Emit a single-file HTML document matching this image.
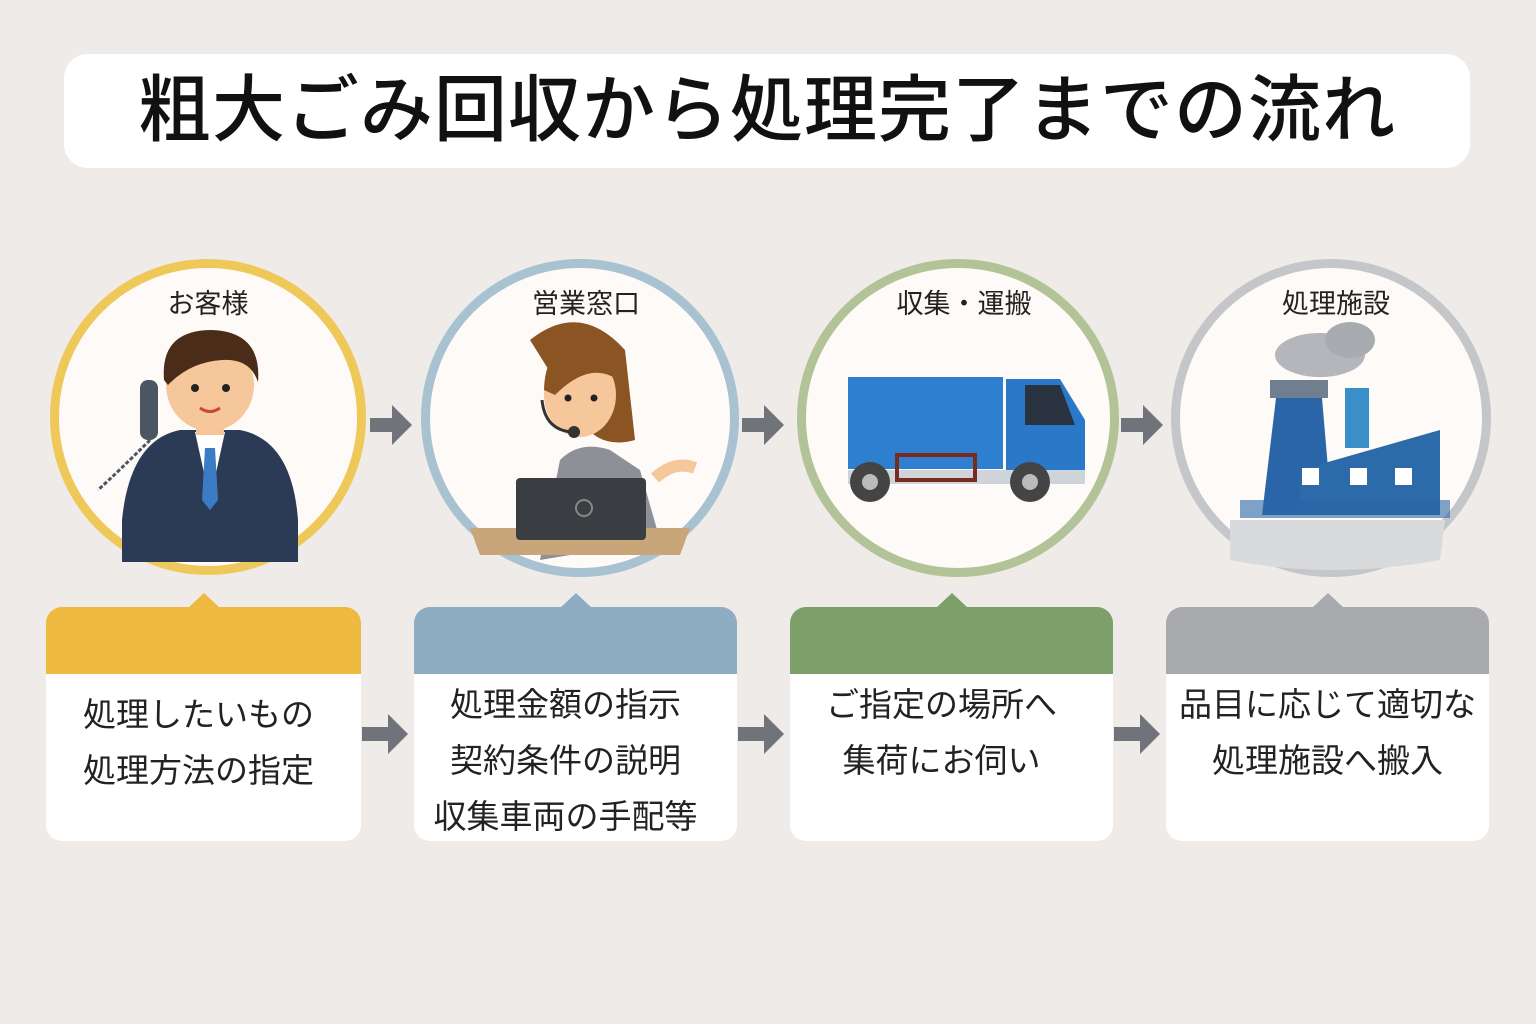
<!DOCTYPE html>
<html><head><meta charset="utf-8"><style>
body{margin:0;width:1536px;height:1024px;background:#eeebe8;position:relative;overflow:hidden;font-family:"Liberation Sans","Noto Sans CJK JP",sans-serif;}
.title{position:absolute;left:64px;top:54px;width:1406px;height:114px;background:#fff;border-radius:24px;text-align:center;line-height:114px;font-size:73px;font-weight:500;color:#111;letter-spacing:1px}
.circ{position:absolute;width:300px;height:300px;border-radius:50%;background:#fdfaf7;box-sizing:border-box}
.clabel{position:absolute;width:300px;text-align:center;font-size:27px;color:#222;top:282px}
.card{position:absolute;top:607px;height:234px;background:#fff;border-radius:16px;overflow:visible}
.head{height:67px;border-radius:16px 16px 0 0}
.tri{position:absolute;top:-14px;left:50%;margin-left:-16px;width:0;height:0;border-left:16px solid transparent;border-right:16px solid transparent;border-bottom:15px solid}
.txt{text-align:center;font-size:33px;color:#222;line-height:56px}
</style></head><body>
<div class="title">粗大ごみ回収から処理完了までの流れ</div>

<div class="circ" style="left:50px;top:259px;width:316px;height:316px;border:9px solid #efc85a"></div>
<div class="circ" style="left:421px;top:259px;width:318px;height:318px;border:9px solid #a8c2d1"></div>
<div class="circ" style="left:797px;top:259px;width:322px;height:318px;border:9px solid #b3c398"></div>
<div class="circ" style="left:1171px;top:259px;width:320px;height:318px;border:9px solid #c5c6ca"></div>
<div class="clabel" style="left:58px">お客様</div>
<div class="clabel" style="left:436px">営業窓口</div>
<div class="clabel" style="left:814px">収集・運搬</div>
<div class="clabel" style="left:1186px">処理施設</div>

<svg style="position:absolute;left:0;top:0" width="1536" height="1024">
<path d="M122 520 Q130 440 180 430 L240 430 Q292 440 298 520 L298 562 L122 562Z" fill="#2b3a55"/>
<path d="M195 432 L210 500 L225 432Z" fill="#fff"/><path d="M205 448 L215 448 L218 500 L210 510 L202 500Z" fill="#3b7dc4"/>
<rect x="196" y="405" width="28" height="30" fill="#f5c49a"/>
<ellipse cx="210" cy="385" rx="44" ry="46" fill="#f7c79c"/>
<path d="M164 380 Q160 330 212 330 Q262 332 258 382 Q250 358 222 360 Q190 362 168 385Z" fill="#4a2c18"/>
<circle cx="195" cy="388" r="4" fill="#222"/><circle cx="226" cy="388" r="4" fill="#222"/>
<path d="M200 408 Q210 415 220 408" stroke="#c44" stroke-width="3" fill="none"/>
<rect x="140" y="380" width="18" height="60" rx="8" fill="#4b5563"/>
<path d="M150 440 Q120 470 98 490" stroke="#4b5563" stroke-width="3" fill="none" stroke-dasharray="4 2"/>
<path d="M540 560 L560 460 Q580 440 610 450 L640 470 L660 540Z" fill="#8d9097"/>
<path d="M530 340 Q580 300 625 350 L635 440 Q600 450 580 420Z" fill="#8a5522"/>
<ellipse cx="580" cy="395" rx="36" ry="42" fill="#f7c79c"/>
<path d="M544 390 Q545 340 590 340 Q615 350 618 380 Q590 360 555 395Z" fill="#8a5522"/>
<circle cx="568" cy="398" r="3.5" fill="#222"/><circle cx="594" cy="398" r="3.5" fill="#222"/>
<path d="M542 400 Q545 430 572 432" stroke="#333" stroke-width="3" fill="none"/><circle cx="574" cy="432" r="6" fill="#333"/>
<path d="M470 528 L690 528 L680 555 L480 555Z" fill="#c9a57a"/>
<rect x="516" y="478" width="130" height="62" rx="4" fill="#3a3d42"/><circle cx="584" cy="508" r="8" fill="none" stroke="#888" stroke-width="2"/>
<path d="M655 478 Q675 460 695 468" stroke="#f7c79c" stroke-width="12" fill="none"/>
<rect x="848" y="377" width="155" height="92" fill="#2f7fd0"/>
<path d="M1006 379 L1060 379 L1085 420 L1085 470 L1006 470Z" fill="#2a78c8"/>
<path d="M1025 385 L1060 385 L1075 425 L1025 425Z" fill="#2a3340"/>
<rect x="848" y="470" width="237" height="14" fill="#cfd4da"/>
<rect x="897" y="455" width="78" height="25" fill="none" stroke="#7a2b20" stroke-width="4"/>
<circle cx="870" cy="482" r="20" fill="#444"/><circle cx="870" cy="482" r="8" fill="#bbb"/>
<circle cx="1030" cy="482" r="20" fill="#444"/><circle cx="1030" cy="482" r="8" fill="#bbb"/>
<ellipse cx="1320" cy="355" rx="45" ry="22" fill="#b4b6bb"/><ellipse cx="1350" cy="340" rx="25" ry="18" fill="#a8abb0"/>
<rect x="1270" y="380" width="58" height="18" fill="#6f7f8f"/>
<path d="M1276 398 L1322 398 L1332 515 L1262 515Z" fill="#2a65a8"/>
<rect x="1345" y="388" width="24" height="60" fill="#3b8fc9"/>
<path d="M1300 470 L1440 430 L1440 515 L1300 515Z" fill="#2d6aa9"/>
<rect x="1302" y="468" width="17" height="17" fill="#fff"/><rect x="1350" y="468" width="17" height="17" fill="#fff"/><rect x="1395" y="468" width="17" height="17" fill="#fff"/>
<rect x="1240" y="500" width="210" height="18" fill="#2a65a8" opacity=".6"/>
<path d="M1230 520 L1445 520 L1440 560 Q1330 580 1230 560Z" fill="#d9dadc"/>
<g fill="#707379">
<path d="M370 418 L392 418 L392 405 L412 425 L392 445 L392 432 L370 432Z"/>
<path d="M742 418 L764 418 L764 405 L784 425 L764 445 L764 432 L742 432Z"/>
<path d="M1121 418 L1143 418 L1143 405 L1163 425 L1143 445 L1143 432 L1121 432Z"/>
<path d="M362 727 L388 727 L388 714 L408 734 L388 754 L388 741 L362 741Z"/>
<path d="M738 727 L764 727 L764 714 L784 734 L764 754 L764 741 L738 741Z"/>
<path d="M1114 727 L1140 727 L1140 714 L1160 734 L1140 754 L1140 741 L1114 741Z"/>
</g></svg>

<div class="card" style="left:46px;width:315px"><div class="tri" style="border-bottom-color:#edb93e"></div><div class="head" style="background:#edb93e"></div><div class="txt" style="padding-top:13px;margin-left:-10px">処理したいもの<br>処理方法の指定</div></div>
<div class="card" style="left:414px;width:323px"><div class="tri" style="border-bottom-color:#8eacc2"></div><div class="head" style="background:#8eacc2"></div><div class="txt" style="position:absolute;top:70px;width:100%;left:-10px">処理金額の指示<br>契約条件の説明<br>収集車両の手配等</div></div>
<div class="card" style="left:790px;width:323px"><div class="tri" style="border-bottom-color:#7d9f6a"></div><div class="head" style="background:#7d9f6a"></div><div class="txt" style="position:absolute;top:70px;width:100%;left:-10px">ご指定の場所へ<br>集荷にお伺い</div></div>
<div class="card" style="left:1166px;width:323px"><div class="tri" style="border-bottom-color:#a8aaae"></div><div class="head" style="background:#a8aaae"></div><div class="txt" style="position:absolute;top:70px;width:100%">品目に応じて適切な<br>処理施設へ搬入</div></div>
</body></html>
